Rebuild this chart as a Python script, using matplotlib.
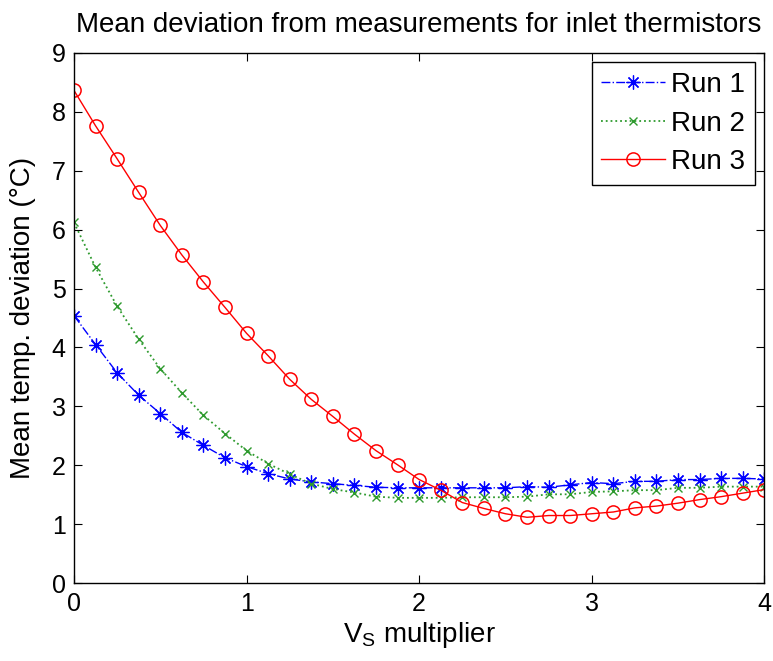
import numpy as np
import matplotlib.pyplot as plt

plt.rcParams['font.family'] = ['Liberation Sans', 'DejaVu Sans']

# V_S multiplier, 0 to 4 in steps of 1/8
vs_mult = np.linspace(0, 4, 33)

run1 = [4.54, 4.05, 3.57, 3.19, 2.88, 2.56, 2.34, 2.13, 1.98, 1.86, 1.77,
        1.72, 1.69, 1.66, 1.63, 1.62, 1.62, 1.62, 1.62, 1.62, 1.62, 1.64,
        1.63, 1.67, 1.71, 1.69, 1.73, 1.73, 1.76, 1.76, 1.78, 1.78, 1.77]
run2 = [6.12, 5.36, 4.70, 4.14, 3.64, 3.23, 2.85, 2.54, 2.25, 2.03, 1.85,
        1.69, 1.60, 1.54, 1.47, 1.45, 1.45, 1.45, 1.46, 1.46, 1.46, 1.47,
        1.51, 1.51, 1.55, 1.56, 1.58, 1.58, 1.62, 1.62, 1.64, 1.64, 1.64]
run3 = [8.36, 7.76, 7.20, 6.63, 6.07, 5.57, 5.11, 4.68, 4.24, 3.86, 3.46,
        3.12, 2.83, 2.53, 2.25, 2.01, 1.76, 1.58, 1.37, 1.27, 1.18, 1.12,
        1.15, 1.15, 1.18, 1.21, 1.28, 1.31, 1.36, 1.42, 1.47, 1.53, 1.59]

fig = plt.figure(figsize=(7.73, 6.61), dpi=100)
ax = fig.add_axes([0.0957, 0.1175, 0.8931, 0.8028])

# matlab style markers: asterisk, x, open circle
ax.plot(vs_mult, run1, '-.', color='blue', marker=(8, 2, 0), markersize=10,
        markeredgewidth=0.9, lw=1, label='Run 1')
ax.plot(vs_mult, run2, ':', color='#2e9a2e', marker='x', markersize=5.5,
        markeredgewidth=1, lw=1.3, label='Run 2')
ax.plot(vs_mult, run3, '-', color='red', marker='o', markersize=9.5,
        markerfacecolor='none', markeredgewidth=1.1, lw=1, label='Run 3')

ax.set_xlim(0, 4)
ax.set_ylim(0, 9)
ax.set_xticks(range(0, 5))
ax.set_yticks(range(0, 10))
ax.tick_params(direction='in', top=True, right=True, labelsize=18, length=6, pad=6)
for s in ax.spines.values():
    s.set_linewidth(1)

ax.set_title('Mean deviation from measurements for inlet thermistors', fontsize=20, pad=15)
ax.set_xlabel(r'V$_\mathregular{S}$ multiplier', fontsize=20, labelpad=3)
ax.set_ylabel('Mean temp. deviation (\u00b0C)', fontsize=20, labelpad=11)

leg = ax.legend(loc='upper right', fontsize=20, fancybox=False, edgecolor='black',
                framealpha=1, borderaxespad=0.35, handlelength=2.3,
                handletextpad=0.2, labelspacing=0.45, borderpad=0.35)
leg.get_frame().set_linewidth(1)

fig.savefig('out.png', dpi=100)
